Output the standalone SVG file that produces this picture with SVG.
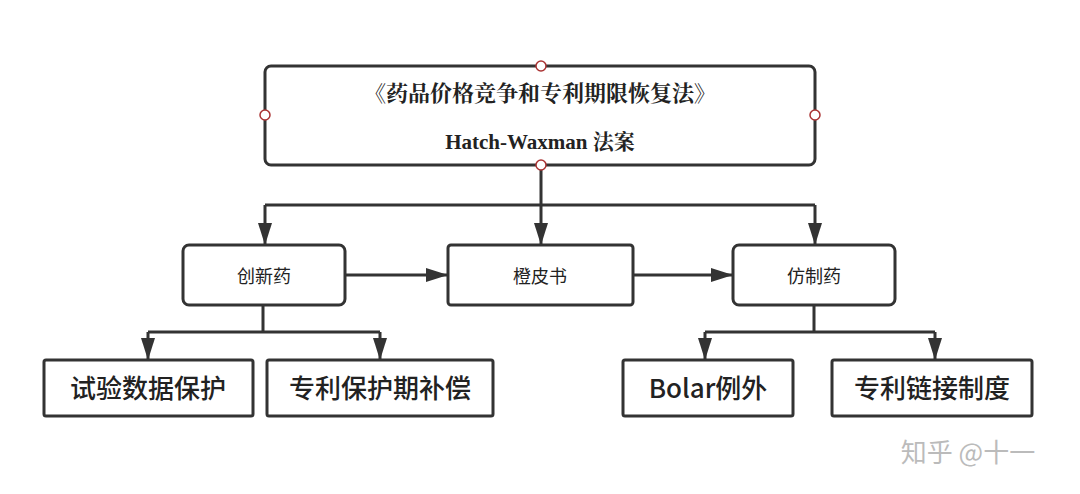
<svg xmlns="http://www.w3.org/2000/svg" width="1080" height="494" viewBox="0 0 1080 494">
<style>
.box{fill:#fff;stroke:#333;stroke-width:3}
.ln{fill:none;stroke:#333;stroke-width:3}
.t{font-family:"Noto Sans CJK SC",sans-serif;fill:#222;text-anchor:middle}
.s{font-family:"Liberation Serif","Noto Serif CJK SC","Noto Sans CJK SC",serif;fill:#222;text-anchor:middle;font-weight:bold}
.pt{fill:#fff;stroke:#a33;stroke-width:1.5}
</style>
<defs><marker id="a" viewBox="0 0 22 14" refX="22" refY="7" markerWidth="22" markerHeight="14" orient="auto" markerUnits="userSpaceOnUse"><path d="M0,0 L22,7 L0,14z" fill="#333"/></marker></defs>
<rect width="1080" height="494" fill="#fff"/>
<g id="connectors">
<path class="ln" d="M541,165 V205 M265,205 H815 M263,305 V332 M148,332 H380 M814,305 V332 M705,332 H935"/>
<path class="ln" marker-end="url(#a)" d="M265,205 V245"/>
<path class="ln" marker-end="url(#a)" d="M541,205 V245"/>
<path class="ln" marker-end="url(#a)" d="M815,205 V245"/>
<path class="ln" marker-end="url(#a)" d="M345,275 H448"/>
<path class="ln" marker-end="url(#a)" d="M633,275 H733"/>
<path class="ln" marker-end="url(#a)" d="M148,332 V360"/>
<path class="ln" marker-end="url(#a)" d="M380,332 V360"/>
<path class="ln" marker-end="url(#a)" d="M705,332 V360"/>
<path class="ln" marker-end="url(#a)" d="M935,332 V360"/>
</g>
<g id="law"><rect class="box" x="265" y="66" width="550" height="99" rx="6"/>
<text class="s" x="540" y="101" font-size="22">《药品价格竞争和专利期限恢复法》</text>
<text class="s" x="540" y="149" font-size="21">Hatch-Waxman 法案</text>
<circle class="pt" cx="541" cy="66" r="5"/><circle class="pt" cx="265" cy="115" r="5"/><circle class="pt" cx="815" cy="115" r="5"/><circle class="pt" cx="541" cy="165" r="5"/></g>
<g id="innov"><rect class="box" x="183" y="245" width="162" height="60" rx="6"/><text class="t" x="264" y="283" font-size="18">创新药</text></g>
<g id="orange"><rect class="box" x="448" y="245" width="185" height="60" rx="3"/><text class="t" x="540" y="283" font-size="18">橙皮书</text></g>
<g id="generic"><rect class="box" x="733" y="245" width="162" height="60" rx="6"/><text class="t" x="814" y="283" font-size="18">仿制药</text></g>
<g id="n1"><rect class="box" x="44" y="360" width="209" height="56" rx="2"/><text class="t" x="148" y="398" font-size="26" font-weight="500">试验数据保护</text></g>
<g id="n2"><rect class="box" x="267" y="360" width="226" height="56" rx="2"/><text class="t" x="380" y="398" font-size="26" font-weight="500">专利保护期补偿</text></g>
<g id="n3"><rect class="box" x="623" y="360" width="170" height="56" rx="2"/><text class="t" x="708" y="398" font-size="26" font-weight="500">Bolar例外</text></g>
<g id="n4"><rect class="box" x="832" y="360" width="200" height="56" rx="2"/><text class="t" x="932" y="398" font-size="26" font-weight="500">专利链接制度</text></g>
<text x="968" y="462" font-family="Noto Sans CJK SC,sans-serif" font-size="26" fill="#bbb" text-anchor="middle">知乎 @十一</text>
</svg>
